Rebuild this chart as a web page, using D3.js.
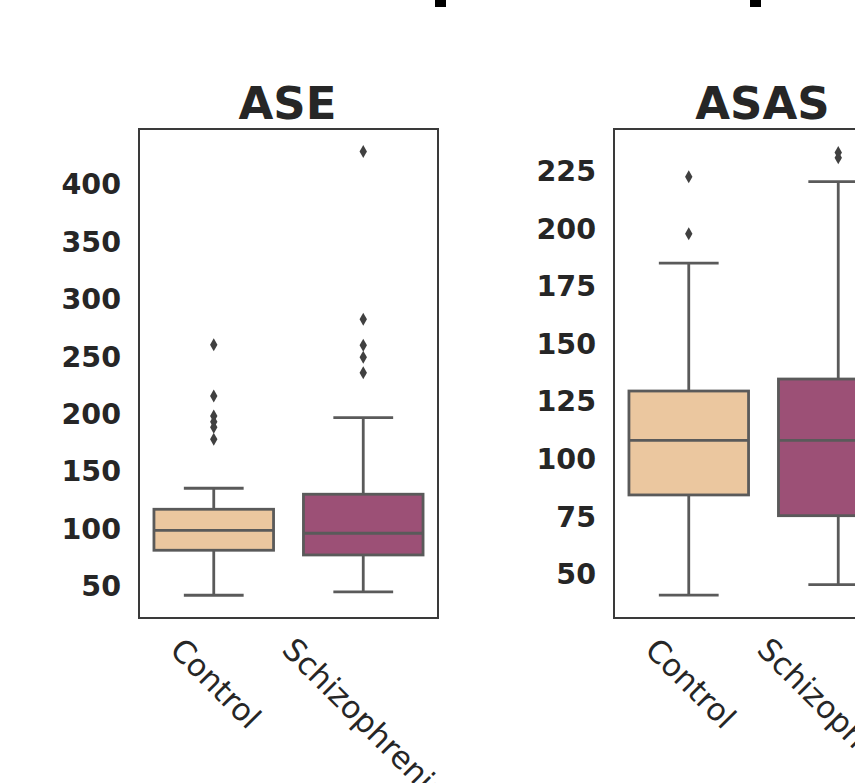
<!DOCTYPE html>
<html>
<head>
<meta charset="utf-8">
<script src="https://d3js.org/d3.v7.min.js"></script>
<style>
  body { margin: 0; background: #fff; }
  text { font-family: "DejaVu Sans", sans-serif; fill: #262626; }
</style>
</head>
<body>
<script>
// categories shared by both panels
var categories = ["Control", "Schizophrenia"];

// ASE panel
var aseLow = [41.9, 44.8];
var aseQ1 = [81.1, 77.0];
var aseMedian = [98.5, 95.9];
var aseQ3 = [116.8, 129.9];
var aseHigh = [135.1, 196.6];
var aseOutliers = [[260, 215.5, 198, 193, 188.2, 177.8], [428.3, 282.3, 259.7, 249.2, 235.8]];
var aseTicks = [50, 100, 150, 200, 250, 300, 350, 400];

// ASAS panel
var asasLow = [40.8, 45.4];
var asasQ1 = [84.3, 75.3];
var asasMedian = [108.0, 108.0];
var asasQ3 = [129.4, 134.6];
var asasHigh = [184.9, 220.3];
var asasOutliers = [[222.4, 197.6], [232.9, 230.6]];
var asasTicks = [50, 75, 100, 125, 150, 175, 200, 225];

var fills = ["#ebc79f", "#9c5076"];
var lineColor = "#5a5a5a";

var svg = d3.select("body").append("svg")
    .attr("width", 855)
    .attr("height", 783);

// cut-off bits of something above the crop
svg.append("rect").attr("x", 435).attr("y", 0).attr("width", 11).attr("height", 7).attr("fill", "#000");
svg.append("rect").attr("x", 750).attr("y", 0).attr("width", 11).attr("height", 7).attr("fill", "#000");

var plotTop = 129, plotBottom = 618, pw = 299;

function drawPanel(x0, title, domain, ticks, low, q1, med, q3, high, outl) {
    var g = svg.append("g");

    var x = d3.scaleBand().domain(categories).range([x0, x0 + pw]);
    var y = d3.scaleLinear().domain(domain).range([plotBottom, plotTop]);
    var bw = x.bandwidth() * 0.8;

    var rows = categories.map(function(c, i) {
        return {cat: c, low: low[i], q1: q1[i], med: med[i], q3: q3[i], high: high[i], out: outl[i], fill: fills[i]};
    });

    var box = g.selectAll(".box").data(rows).enter().append("g").attr("class", "box");

    // whiskers
    box.append("line")
        .attr("x1", function(d) { return x(d.cat) + x.bandwidth() / 2; })
        .attr("x2", function(d) { return x(d.cat) + x.bandwidth() / 2; })
        .attr("y1", function(d) { return y(d.q3); })
        .attr("y2", function(d) { return y(d.high); });
    box.append("line")
        .attr("x1", function(d) { return x(d.cat) + x.bandwidth() / 2; })
        .attr("x2", function(d) { return x(d.cat) + x.bandwidth() / 2; })
        .attr("y1", function(d) { return y(d.q1); })
        .attr("y2", function(d) { return y(d.low); });
    // caps
    ["high", "low"].forEach(function(k) {
        box.append("line")
            .attr("x1", function(d) { return x(d.cat) + x.bandwidth() / 2 - bw / 4; })
            .attr("x2", function(d) { return x(d.cat) + x.bandwidth() / 2 + bw / 4; })
            .attr("y1", function(d) { return y(d[k]); })
            .attr("y2", function(d) { return y(d[k]); });
    });
    box.selectAll("line").attr("stroke", lineColor).attr("stroke-width", 2.8);

    box.append("rect")
        .attr("x", function(d) { return x(d.cat) + (x.bandwidth() - bw) / 2; })
        .attr("y", function(d) { return y(d.q3); })
        .attr("width", bw)
        .attr("height", function(d) { return y(d.q1) - y(d.q3); })
        .attr("fill", function(d) { return d.fill; })
        .attr("stroke", lineColor)
        .attr("stroke-width", 2.8);

    box.append("line")
        .attr("x1", function(d) { return x(d.cat) + (x.bandwidth() - bw) / 2; })
        .attr("x2", function(d) { return x(d.cat) + (x.bandwidth() + bw) / 2; })
        .attr("y1", function(d) { return y(d.med); })
        .attr("y2", function(d) { return y(d.med); })
        .attr("stroke", lineColor)
        .attr("stroke-width", 2.8);

    // outliers, thin diamonds
    box.each(function(d) {
        d3.select(this).selectAll("path").data(d.out).enter().append("path")
            .attr("d", "M0,-6.5L3.7,0L0,6.5L-3.7,0Z")
            .attr("fill", "#404040")
            .attr("transform", function(v) { return "translate(" + (x(d.cat) + x.bandwidth() / 2) + "," + y(v) + ")"; });
    });

    // frame
    g.append("rect")
        .attr("x", x0).attr("y", plotTop)
        .attr("width", pw).attr("height", plotBottom - plotTop)
        .attr("fill", "none")
        .attr("stroke", "#3a3a3a")
        .attr("stroke-width", 2);

    // y tick labels
    g.selectAll(".yt").data(ticks).enter().append("text")
        .attr("x", x0 - 18)
        .attr("y", function(d) { return y(d); })
        .attr("dy", "0.36em")
        .attr("text-anchor", "end")
        .attr("font-size", 28.5)
        .attr("font-weight", "bold")
        .text(function(d) { return d; });

    // x tick labels, rotated 45 deg, bbox centred under the tick
    g.selectAll(".xt").data(categories).enter().append("text")
        .attr("text-anchor", "middle")
        .attr("dy", "0.35em")
        .attr("font-size", 31)
        .text(function(d) { return d; })
        .each(function(d) {
            var L = this.getComputedTextLength();
            var bh = (L + 31 * 1.16) * Math.SQRT1_2;
            var cx = x(d) + x.bandwidth() / 2;
            var cy = 631 + bh / 2;
            d3.select(this).attr("x", cx + 2).attr("y", cy)
                .attr("transform", "rotate(45," + (cx + 2) + "," + cy + ")");
        });

    g.append("text")
        .attr("x", x0 + pw / 2 - 1)
        .attr("y", 119)
        .attr("text-anchor", "middle")
        .attr("font-size", 45)
        .attr("font-weight", "bold")
        .text(title);
}

drawPanel(139, "ASE", [22.1, 448], aseTicks, aseLow, aseQ1, aseMedian, aseQ3, aseHigh, aseOutliers);
drawPanel(614, "ASAS", [30.9, 243.1], asasTicks, asasLow, asasQ1, asasMedian, asasQ3, asasHigh, asasOutliers);
</script>
</body>
</html>
